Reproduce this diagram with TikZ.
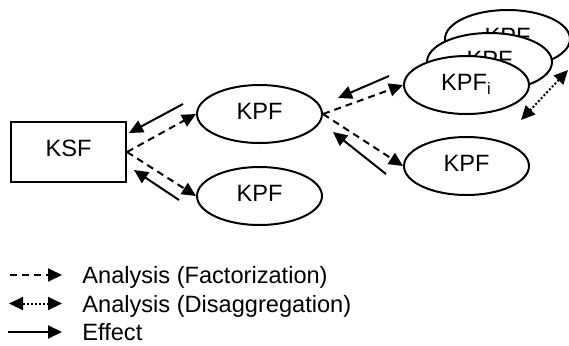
\documentclass[tikz,border=0pt]{standalone}
\usepackage{fontspec}
\setmainfont{Liberation Sans}
\usetikzlibrary{shapes.geometric,arrows.meta}
\begin{document}
\begin{tikzpicture}[x=0.5pt,y=-0.5pt,
  font=\fontsize{11.8}{14}\selectfont,
  kpf/.style={ellipse,draw,line width=1pt,fill=white,minimum width=62.5pt,
    minimum height=29pt,inner sep=0pt,text depth=2.5pt},
  ksfbox/.style={draw,line width=1pt,fill=white,minimum width=57.5pt,
    minimum height=30pt,inner sep=0pt,text depth=4pt},
  hd/.tip={Triangle[length=7pt,width=6.5pt]},
  ana/.style={line width=1pt,dash pattern=on 3.5pt off 2.5pt,-hd},
  eff/.style={line width=1pt,-hd},
  dis/.style={line width=1pt,dash pattern=on 1pt off 1pt,hd-hd},
  legtext/.style={anchor=base west,inner sep=0pt}]
\useasboundingbox (0,0) rectangle (569,345);

% factors
\node[ksfbox] (ksf) at (68.5,152) {KSF};
\node[kpf] (kpf1) at (259.5,114) {KPF};
\node[kpf] (kpf2) at (259.5,196) {KPF};
% stack of sub-factors, drawn back to front
\node[kpf] (kpfc) at (507.5,39) {KPF};
\node[kpf] (kpfb) at (489.5,62) {KPF};
\node[kpf] (kpfi) at (466.5,85) {KPF\textsubscript{i}};
\node[kpf] (kpf3) at (466.5,166) {KPF};

% analysis (factorization)
\draw[ana] (ksf.east) -- (kpf1.west);
\draw[ana] (ksf.east) -- (kpf2.west);
\draw[ana] (kpf1.east) -- (kpfi.west);
\draw[ana] (kpf1.east) -- (kpf3.west);

% effects
\draw[eff] ([shift={(-13,-10)}]kpf1.west) -- ([shift={(2,-19)}]ksf.east);
\draw[eff] ([shift={(-17,4)}]kpf2.west) -- ([shift={(7,18)}]ksf.east);
\draw[eff] ([shift={(-14,-9)}]kpfi.west) -- ([shift={(15,-16)}]kpf1.east);
\draw[eff] ([shift={(-17,8)}]kpf3.west) -- ([shift={(10,18)}]kpf1.east);

% analysis (disaggregation) along the stack
\coordinate (dis1) at (568,70);
\coordinate (dis2) at (521,120);
\draw[dis] (dis1) -- (dis2);

% legend
\coordinate (l1a) at (10,275);  \coordinate (l1b) at (62,275);
\coordinate (l2a) at (9,303.5); \coordinate (l2b) at (62,303.5);
\coordinate (l3a) at (8,332);   \coordinate (l3b) at (62,332);
\draw[ana] (l1a) -- (l1b);
\draw[dis] (l2a) -- (l2b);
\draw[eff] (l3a) -- (l3b);
\node[legtext] (t1) at (82,283.5) {Analysis (Factorization)};
\node[legtext] (t2) at (82,312) {Analysis (Disaggregation)};
\node[legtext] (t3) at (82,340.5) {Effect};
\end{tikzpicture}
\end{document}
